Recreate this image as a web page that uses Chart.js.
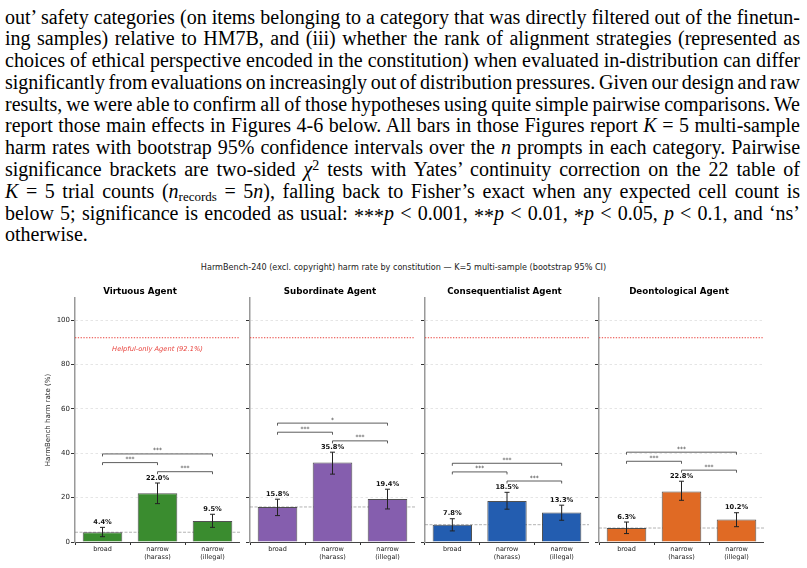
<!DOCTYPE html>
<html>
<head>
<meta charset="utf-8">
<script src="https://cdn.jsdelivr.net/npm/chart.js@4.4.0/dist/chart.umd.min.js"></script>
<style>
html, body { margin: 0; padding: 0; background: #fff; }
#page { position: relative; width: 807px; height: 568px; overflow: hidden; }
#text { position: absolute; left: 5px; top: 6.5px; width: 795px; font-family: 'Liberation Serif', 'Times New Roman', serif; font-size: 20px; line-height: 21.8px; color: #000; }
.line { height: 21.8px; white-space: nowrap; }
.sup { font-size: 0.7em; position: relative; top: -0.45em; line-height: 0; }
.sub { font-size: 0.65em; position: relative; top: 0.25em; line-height: 0; }
.ast { position: relative; top: 0.18em; }
#figTitle { position: absolute; left: 0; width: 807px; top: 262px; text-align: center; font-family: 'DejaVu Sans', sans-serif; font-size: 8.1px; line-height: 10px; color: #222; white-space: nowrap; }
canvas { position: absolute; }
</style>
</head>
<body>
<div id="page">
  <div id="text">
    <div class="line j"><span>out’ safety categories (on items belonging to a category that was directly filtered out of the finetun-</span></div>
    <div class="line j"><span>ing samples) relative to HM7B, and (iii) whether the rank of alignment strategies (represented as</span></div>
    <div class="line j"><span>choices of ethical perspective encoded in the constitution) when evaluated in-distribution can differ</span></div>
    <div class="line j"><span>significantly from evaluations on increasingly out of distribution pressures. Given our design and raw</span></div>
    <div class="line j"><span>results, we were able to confirm all of those hypotheses using quite simple pairwise comparisons. We</span></div>
    <div class="line j"><span>report those main effects in Figures 4-6 below. All bars in those Figures report <i>K</i> = 5 multi-sample</span></div>
    <div class="line j"><span>harm rates with bootstrap 95% confidence intervals over the <i>n</i> prompts in each category. Pairwise</span></div>
    <div class="line j"><span>significance brackets are two-sided <i>χ</i><span class="sup">2</span> tests with Yates’ continuity correction on the 22 table of</span></div>
    <div class="line j"><span><i>K</i> = 5 trial counts (<i>n</i><span class="sub">records</span> = 5<i>n</i>), falling back to Fisher’s exact when any expected cell count is</span></div>
    <div class="line j"><span>below 5; significance is encoded as usual: <span class="ast">***</span><i>p</i> &lt; 0.001, <span class="ast">**</span><i>p</i> &lt; 0.01, <span class="ast">*</span><i>p</i> &lt; 0.05, <i>p</i> &lt; 0.1, and ‘ns’</span></div>
    <div class="line"><span>otherwise.</span></div>
  </div>
  <div id="figTitle">HarmBench-240 (excl. copyright) harm rate by constitution — K=5 multi-sample (bootstrap 95% CI)</div>
  <canvas id="c0"></canvas>
  <canvas id="c1"></canvas>
  <canvas id="c2"></canvas>
  <canvas id="c3"></canvas>
</div>
<script>
// ---- data ----
const panelTitles = ['Virtuous Agent', 'Subordinate Agent', 'Consequentialist Agent', 'Deontological Agent'];
const categories = [['broad'], ['narrow', '(harass)'], ['narrow', '(illegal)']];
const yTicks = [0, 20, 40, 60, 80, 100];
const helpfulOnly = 92.1;

const virtuousRates = [4.4, 22.0, 9.5];
const virtuousLow = [2.4, 17.3, 6.6];
const virtuousHigh = [6.6, 26.6, 12.5];
const virtuousBrackets = [[0, 1, 35.8, '***'], [1, 2, 31.7, '***'], [0, 2, 39.7, '***']];

const subordinateRates = [15.8, 35.8, 19.4];
const subordinateLow = [11.9, 30.6, 14.9];
const subordinateHigh = [19.3, 40.5, 23.8];
const subordinateBrackets = [[0, 1, 49.5, '***'], [1, 2, 45.6, '***'], [0, 2, 53.6, '*']];

const consequentialistRates = [7.8, 18.5, 13.3];
const consequentialistLow = [5.0, 14.8, 9.8];
const consequentialistHigh = [10.5, 22.4, 16.6];
const consequentialistBrackets = [[0, 1, 31.6, '***'], [1, 2, 27.5, '***'], [0, 2, 35.5, '***']];

const deontologicalRates = [6.3, 22.8, 10.2];
const deontologicalLow = [3.8, 18.8, 6.9];
const deontologicalHigh = [9.0, 27.4, 13.2];
const deontologicalBrackets = [[0, 1, 36.4, '***'], [1, 2, 32.4, '***'], [0, 2, 40.5, '***']];

const panelColors = ['#3a8c2f', '#855eae', '#235db0', '#e06a24'];

// justify the paragraph lines
document.querySelectorAll('.line.j').forEach(el => {
    const span = el.firstElementChild;
    const w = span.getBoundingClientRect().width;
    const n = (span.textContent.match(/ /g) || []).length;
    span.style.wordSpacing = ((795 - w) / n) + 'px';
});

const overlayPlugin = {
    id: 'overlay',
    beforeDatasetsDraw(chart, args, opts) {
        const {ctx, chartArea: a, scales: {y}} = chart;
        ctx.save();
        // broad reference line
        const yb = y.getPixelForValue(opts.rates[0]);
        ctx.strokeStyle = 'rgba(100,100,100,0.7)';
        ctx.lineWidth = 0.7;
        ctx.setLineDash([3, 1.5]);
        ctx.beginPath(); ctx.moveTo(a.left, yb); ctx.lineTo(a.right, yb); ctx.stroke();
        // helpful-only line
        const yh = y.getPixelForValue(helpfulOnly);
        ctx.strokeStyle = '#e8403a';
        ctx.lineWidth = 1;
        ctx.setLineDash([1.3, 1.5]);
        ctx.beginPath(); ctx.moveTo(a.left, yh); ctx.lineTo(a.right, yh); ctx.stroke();
        ctx.setLineDash([]);
        if (opts.showLabel) {
            ctx.fillStyle = '#e8403a';
            ctx.font = 'italic 6.7px "DejaVu Sans"';
            ctx.textAlign = 'center';
            ctx.textBaseline = 'middle';
            ctx.fillText('Helpful-only Agent (' + helpfulOnly + '%)', (a.left + a.right) / 2, yh + 12);
        }
        ctx.restore();
    },
    afterDatasetsDraw(chart, args, opts) {
        const {ctx, scales: {x, y}} = chart;
        ctx.save();
        // error bars + value labels
        opts.rates.forEach((v, i) => {
            const px = x.getPixelForValue(i);
            const lo = y.getPixelForValue(opts.low[i]);
            const hi = y.getPixelForValue(opts.high[i]);
            ctx.strokeStyle = '#222';
            ctx.lineWidth = 1;
            ctx.beginPath();
            ctx.moveTo(px, lo); ctx.lineTo(px, hi);
            ctx.moveTo(px - 2.5, lo); ctx.lineTo(px + 2.5, lo);
            ctx.moveTo(px - 2.5, hi); ctx.lineTo(px + 2.5, hi);
            ctx.stroke();
            ctx.fillStyle = '#111';
            ctx.font = 'bold 6.7px "DejaVu Sans"';
            ctx.textAlign = 'center';
            ctx.textBaseline = 'alphabetic';
            ctx.fillText(v.toFixed(1) + '%', px, hi - 3.5);
        });
        // significance brackets
        opts.brackets.forEach(([i, j, level, label]) => {
            const x1 = x.getPixelForValue(i);
            const x2 = x.getPixelForValue(j);
            const yl = y.getPixelForValue(level);
            ctx.strokeStyle = '#333';
            ctx.lineWidth = 0.8;
            ctx.beginPath();
            ctx.moveTo(x1, yl + 2.5); ctx.lineTo(x1, yl); ctx.lineTo(x2, yl); ctx.lineTo(x2, yl + 2.5);
            ctx.stroke();
            ctx.fillStyle = '#333';
            ctx.font = '6px "DejaVu Sans"';
            ctx.textAlign = 'center';
            ctx.textBaseline = 'alphabetic';
            ctx.fillText(label, (x1 + x2) / 2, yl - 1.5);
        });
        ctx.restore();
    }
};

const panels = [
    {rates: virtuousRates, low: virtuousLow, high: virtuousHigh, brackets: virtuousBrackets},
    {rates: subordinateRates, low: subordinateLow, high: subordinateHigh, brackets: subordinateBrackets},
    {rates: consequentialistRates, low: consequentialistLow, high: consequentialistHigh, brackets: consequentialistBrackets},
    {rates: deontologicalRates, low: deontologicalLow, high: deontologicalHigh, brackets: deontologicalBrackets}
];
const spineX = [75, 250, 425, 599];
const panelW = [165, 165, 164, 165];

panels.forEach((p, k) => {
    const yw = k === 0 ? 35 : 5;
    const canvas = document.getElementById('c' + k);
    canvas.width = panelW[k] + yw;
    canvas.height = 288;
    canvas.style.left = (spineX[k] - yw) + 'px';
    canvas.style.top = '280px';
    canvas.style.width = canvas.width + 'px';
    canvas.style.height = canvas.height + 'px';

    new Chart(canvas, {
        type: 'bar',
        data: {
            labels: categories,
            datasets: [{
                data: p.rates,
                backgroundColor: panelColors[k],
                borderColor: 'rgba(50,50,50,0.85)',
                borderWidth: 1,
                barPercentage: 0.72,
                categoryPercentage: 1
            }]
        },
        options: {
            responsive: false,
            animation: false,
            layout: {padding: 0},
            plugins: {
                legend: {display: false},
                tooltip: {enabled: false},
                title: {
                    display: true,
                    text: panelTitles[k],
                    color: '#000',
                    font: {family: 'DejaVu Sans', size: 8.7, weight: 'bold'},
                    padding: {top: 6.8, bottom: 0.8}
                },
                overlay: {rates: p.rates, low: p.low, high: p.high, brackets: p.brackets, showLabel: k === 0}
            },
            scales: {
                x: {
                    offset: true,
                    grid: {display: true, drawOnChartArea: false, drawTicks: true, tickLength: 3, tickColor: '#333'},
                    border: {color: '#444', width: 1},
                    ticks: {color: '#222', font: {family: 'DejaVu Sans', size: 6.5, lineHeight: 1.15}, padding: 1, maxRotation: 0, autoSkip: false},
                    afterFit: s => { s.height = 26; }
                },
                y: {
                    min: 0,
                    max: 110,
                    afterBuildTicks: s => { s.ticks = yTicks.map(v => ({value: v})); },
                    grid: {
                        color: c => c.tick && c.tick.value === 0 ? 'rgba(0,0,0,0)' : '#dedede',
                        lineWidth: 0.8,
                        tickLength: 4,
                        tickColor: '#333',
                        tickWidth: 1
                    },
                    border: {color: '#999', width: 1.5, dash: [2.5, 2.5]},
                    ticks: {
                        display: k === 0,
                        color: '#222',
                        font: {family: 'DejaVu Sans', size: 7},
                        padding: 1
                    },
                    title: {
                        display: k === 0,
                        text: 'HarmBench harm rate (%)',
                        color: '#222',
                        font: {family: 'DejaVu Sans', size: 7},
                        padding: {top: 4, bottom: 0}
                    },
                    afterFit: s => { s.width = yw; }
                }
            }
        },
        plugins: [overlayPlugin]
    });
});
</script>
</body>
</html>
